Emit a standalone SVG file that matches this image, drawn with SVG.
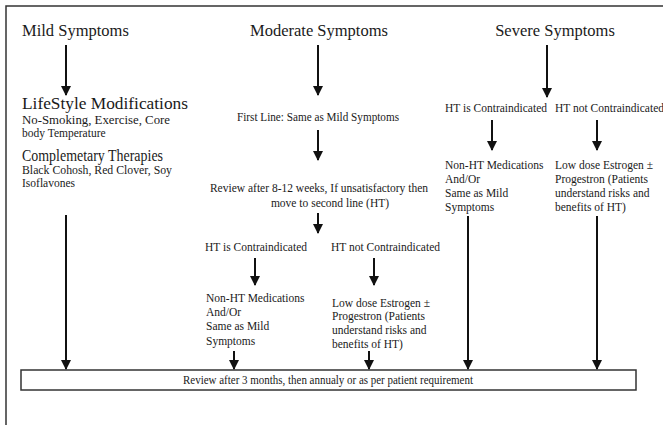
<svg xmlns="http://www.w3.org/2000/svg" width="663" height="425" viewBox="0 0 663 425">
<defs>
<marker id="ah" viewBox="0 0 10 10" refX="9" refY="5" markerWidth="5" markerHeight="5" orient="auto" markerUnits="strokeWidth">
<path d="M0,0 L10,5 L0,10 z" fill="#111"/>
</marker>
<style>
text{font-family:"Liberation Serif","Times New Roman",serif;fill:#1a1a1a}
.t{font-size:16.5px}
.h{font-size:16px}
.s{font-size:11.5px}
.m{font-size:11.5px}
.c{stroke:#111;stroke-width:2;fill:none;marker-end:url(#ah)}
.frame{stroke:#333;stroke-width:1.5;fill:none}
</style>
</defs>
<rect width="663" height="425" fill="#fff"/>
<path class="frame" d="M6,425 V6 H663"/>

<g id="mild">
<text class="t" x="22" y="36">Mild Symptoms</text>
<text class="h" x="22" y="109" textLength="166" lengthAdjust="spacingAndGlyphs">LifeStyle Modifications</text>
<text class="s" x="22" y="124" textLength="148" lengthAdjust="spacingAndGlyphs">No-Smoking, Exercise, Core</text>
<text class="s" x="22" y="137">body Temperature</text>
<text class="h" x="22" y="161" textLength="141" lengthAdjust="spacingAndGlyphs">Complemetary Therapies</text>
<text class="s" x="22" y="174" textLength="150" lengthAdjust="spacingAndGlyphs">Black Cohosh, Red Clover, Soy</text>
<text class="s" x="22" y="187">Isoflavones</text>
</g>

<g id="moderate">
<text class="t" x="319" y="36" text-anchor="middle">Moderate Symptoms</text>
<text class="m" x="318" y="121" text-anchor="middle" textLength="162" lengthAdjust="spacingAndGlyphs">First Line: Same as Mild Symptoms</text>
<text class="m" x="319" y="192" text-anchor="middle">Review after 8-12 weeks, If unsatisfactory then</text>
<text class="m" x="330" y="207" text-anchor="middle">move to second line (HT)</text>
<text class="s" x="205" y="251">HT is Contraindicated</text>
<text class="s" x="331" y="251">HT not Contraindicated</text>
</g>

<g id="moderate-nonht">
<text class="s" x="206" y="302">Non-HT Medications</text>
<text class="s" x="206" y="316">And/Or</text>
<text class="s" x="206" y="330">Same as Mild</text>
<text class="s" x="206" y="345">Symptoms</text>
</g>

<g id="moderate-ht">
<text class="s" x="332" y="307">Low dose Estrogen ±</text>
<text class="s" x="332" y="320">Progestron (Patients</text>
<text class="s" x="332" y="334">understand risks and</text>
<text class="s" x="332" y="348">benefits of HT)</text>
</g>

<g id="severe">
<text class="t" x="555" y="36" text-anchor="middle">Severe Symptoms</text>
<text class="s" x="445" y="112">HT is Contraindicated</text>
<text class="s" x="555" y="112">HT not Contraindicated</text>
</g>

<g id="severe-nonht">
<text class="s" x="445" y="169">Non-HT Medications</text>
<text class="s" x="445" y="183">And/Or</text>
<text class="s" x="445" y="197">Same as Mild</text>
<text class="s" x="445" y="211">Symptoms</text>
</g>

<g id="severe-ht">
<text class="s" x="555" y="169">Low dose Estrogen ±</text>
<text class="s" x="555" y="183">Progestron (Patients</text>
<text class="s" x="555" y="197">understand risks and</text>
<text class="s" x="555" y="211">benefits of HT)</text>
</g>

<g id="review">
<rect x="21" y="370" width="615" height="20" fill="#fff" stroke="#333" stroke-width="1.5"/>
<text class="s" x="328" y="384" text-anchor="middle" textLength="290" lengthAdjust="spacingAndGlyphs">Review after 3 months, then annualy or as per patient requirement</text>
</g>

<g id="connectors">
<line class="c" x1="66" y1="45" x2="66" y2="95"/>
<line class="c" x1="318" y1="45" x2="318" y2="95"/>
<line class="c" x1="547" y1="45" x2="547" y2="97"/>
<line class="c" x1="318" y1="130" x2="318" y2="160"/>
<line class="c" x1="318" y1="213" x2="318" y2="233"/>
<line class="c" x1="255" y1="258" x2="255" y2="285"/>
<line class="c" x1="374" y1="258" x2="374" y2="285"/>
<line class="c" x1="492" y1="120" x2="492" y2="150"/>
<line class="c" x1="597" y1="120" x2="597" y2="150"/>
<line class="c" x1="66" y1="215" x2="66" y2="369"/>
<line class="c" x1="234" y1="351" x2="234" y2="369"/>
<line class="c" x1="369" y1="351" x2="369" y2="369"/>
<line class="c" x1="468" y1="216" x2="468" y2="369"/>
<line class="c" x1="597" y1="216" x2="597" y2="369"/>
</g>
</svg>
